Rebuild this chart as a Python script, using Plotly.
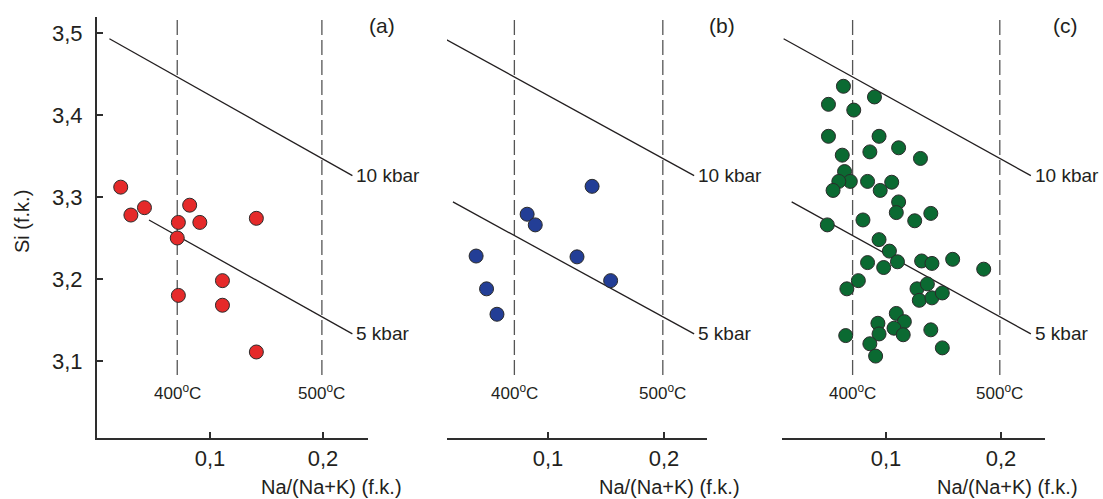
import plotly.graph_objects as go

W, H = 1103, 499

# ---------------- data ----------------
a_x = [0.021, 0.030, 0.042, 0.072, 0.082, 0.091, 0.141, 0.071, 0.072, 0.111, 0.111, 0.141]
a_y = [3.312, 3.278, 3.287, 3.269, 3.290, 3.269, 3.274, 3.250, 3.180, 3.198, 3.168, 3.111]

b_x = [0.038, 0.047, 0.056, 0.082, 0.089, 0.125, 0.138, 0.154]
b_y = [3.228, 3.188, 3.157, 3.279, 3.266, 3.227, 3.313, 3.198]

c_x = [0.063, 0.050, 0.072, 0.090, 0.050, 0.094, 0.111, 0.086, 0.062, 0.130,
       0.064, 0.069, 0.059, 0.054, 0.084, 0.105, 0.095, 0.111, 0.109, 0.139,
       0.125, 0.049, 0.080, 0.094, 0.103, 0.084, 0.098, 0.110, 0.131, 0.140,
       0.158, 0.185, 0.076, 0.066, 0.127, 0.136, 0.129, 0.140, 0.149, 0.109,
       0.093, 0.116, 0.107, 0.115, 0.094, 0.139, 0.065, 0.086, 0.149, 0.091]
c_y = [3.435, 3.413, 3.406, 3.422, 3.374, 3.374, 3.360, 3.355, 3.351, 3.347,
       3.331, 3.319, 3.319, 3.308, 3.319, 3.318, 3.308, 3.294, 3.281, 3.280,
       3.271, 3.266, 3.272, 3.248, 3.234, 3.220, 3.214, 3.221, 3.222, 3.219,
       3.224, 3.212, 3.198, 3.188, 3.188, 3.194, 3.174, 3.177, 3.183, 3.158,
       3.146, 3.148, 3.140, 3.132, 3.133, 3.138, 3.131, 3.121, 3.116, 3.106]

# isobars (x start, x end), (y start, y end)
kbar10_x = [0.011, 0.226]
kbar10_y = [3.493, 3.326]
kbar5_x = [0.018, 0.226]
kbar5_y = [3.294, 3.133]
kbar5_a_x = [0.046, 0.226]
kbar5_a_y = [3.272, 3.133]

iso_T = [0.071, 0.199]
iso_T_labels = ["400<sup>o</sup>C", "500<sup>o</sup>C"]
panel_labels = ["(a)", "(b)", "(c)"]
y_ticks = [3.1, 3.2, 3.3, 3.4, 3.5]
x_ticks = [0.1, 0.2]

# ---------------- layout geometry ----------------
def px(x):
    return x / W

def py(y):
    return 1 - y / H

y_dom = [py(438), py(17)]
y_rng = [3.0061, 3.5195]
x_doms = [[px(97), px(368)], [px(447), px(707)], [px(782), px(1045)]]
x_rngs = [[0.0, 0.2398], [0.0129, 0.2371], [0.0096, 0.2383]]

FONT = "Liberation Sans, Arial, sans-serif"
TXT = "#231f20"
AX = "#2e2e2e"

colors = ["#e52a2a", "#233e96", "#0b6a32"]
pts = [(a_x, a_y), (b_x, b_y), (c_x, c_y)]

fig = go.Figure()

for i in range(3):
    xa = "x" if i == 0 else f"x{i+1}"
    ya = "y" if i == 0 else f"y{i+1}"
    # temperature dashed lines
    for t in iso_T:
        fig.add_trace(go.Scatter(x=[t, t], y=[3.083, y_rng[1]], mode="lines",
                                 line=dict(color="#555555", width=1.3, dash="15px,5px"),
                                 xaxis=xa, yaxis=ya, showlegend=False, hoverinfo="skip"))
    # isobars
    fig.add_trace(go.Scatter(x=kbar10_x, y=kbar10_y, mode="lines",
                             line=dict(color=TXT, width=1.3),
                             xaxis=xa, yaxis=ya, showlegend=False, hoverinfo="skip"))
    k5x, k5y = (kbar5_a_x, kbar5_a_y) if i == 0 else (kbar5_x, kbar5_y)
    fig.add_trace(go.Scatter(x=k5x, y=k5y, mode="lines",
                             line=dict(color=TXT, width=1.3),
                             xaxis=xa, yaxis=ya, showlegend=False, hoverinfo="skip"))
    # points
    fig.add_trace(go.Scatter(x=pts[i][0], y=pts[i][1], mode="markers",
                             marker=dict(size=14, color=colors[i],
                                         line=dict(color="#2b2b2b", width=1)),
                             xaxis=xa, yaxis=ya, showlegend=False))

    # annotations
    fig.add_annotation(x=kbar10_x[1], y=kbar10_y[1], xref=xa, yref=ya, text="10 kbar",
                       showarrow=False, xanchor="left", yanchor="middle", xshift=2,
                       font=dict(size=19, color=TXT, family=FONT))
    fig.add_annotation(x=kbar5_x[1], y=kbar5_y[1], xref=xa, yref=ya, text="5 kbar",
                       showarrow=False, xanchor="left", yanchor="middle", xshift=2,
                       font=dict(size=19, color=TXT, family=FONT))
    for t, lab in zip(iso_T, iso_T_labels):
        fig.add_annotation(x=t, y=3.062, xref=xa, yref=ya, text=lab,
                           showarrow=False, xanchor="center", yanchor="middle",
                           font=dict(size=17, color=TXT, family=FONT))

    lab_x = [382, 722, 1065][i]
    fig.add_annotation(x=px(lab_x), y=py(25), xref="paper", yref="paper",
                       text=panel_labels[i], showarrow=False,
                       xanchor="center", yanchor="middle",
                       font=dict(size=21, color=TXT, family=FONT))
    tl_x = [331, 669, 1007][i]
    fig.add_annotation(x=px(tl_x), y=py(487), xref="paper", yref="paper",
                       text="Na/(Na+K) (f.k.)", showarrow=False,
                       xanchor="center", yanchor="middle",
                       font=dict(size=20, color=TXT, family=FONT))

fig.add_annotation(x=px(22), y=py(222), xref="paper", yref="paper",
                   text="Si (f.k.)", showarrow=False, textangle=-90,
                   xanchor="center", yanchor="middle",
                   font=dict(size=20, color=TXT, family=FONT))

layout = dict(
    width=W, height=H,
    margin=dict(l=0, r=0, t=0, b=0),
    paper_bgcolor="white", plot_bgcolor="rgba(0,0,0,0)",
    separators=", ",
    font=dict(family=FONT, color=TXT),
)

for i in range(3):
    xk = "xaxis" if i == 0 else f"xaxis{i+1}"
    yk = "yaxis" if i == 0 else f"yaxis{i+1}"
    ya = "y" if i == 0 else f"y{i+1}"
    xa = "x" if i == 0 else f"x{i+1}"
    layout[xk] = dict(domain=x_doms[i], range=x_rngs[i], anchor=ya,
                      showline=True, linewidth=2, linecolor=AX,
                      ticks="inside", ticklen=6, tickwidth=1.5, tickcolor=AX,
                      tickvals=x_ticks, tickformat=".1f",
                      tickfont=dict(size=22, color=TXT, family=FONT),
                      showgrid=False, zeroline=False, fixedrange=True)
    if i == 0:
        layout[yk] = dict(domain=y_dom, range=y_rng, anchor=xa,
                          showline=True, linewidth=2, linecolor=AX,
                          ticks="inside", ticklen=6, tickwidth=1.5, tickcolor=AX,
                          tickvals=y_ticks, tickformat=".1f",
                          ticklabelstandoff=8,
                          tickfont=dict(size=22, color=TXT, family=FONT),
                          showgrid=False, zeroline=False, fixedrange=True)
    else:
        layout[yk] = dict(domain=y_dom, range=y_rng, anchor=xa,
                          visible=False, showgrid=False, zeroline=False, fixedrange=True)

fig.update_layout(**layout)
fig.write_html("out.html")
